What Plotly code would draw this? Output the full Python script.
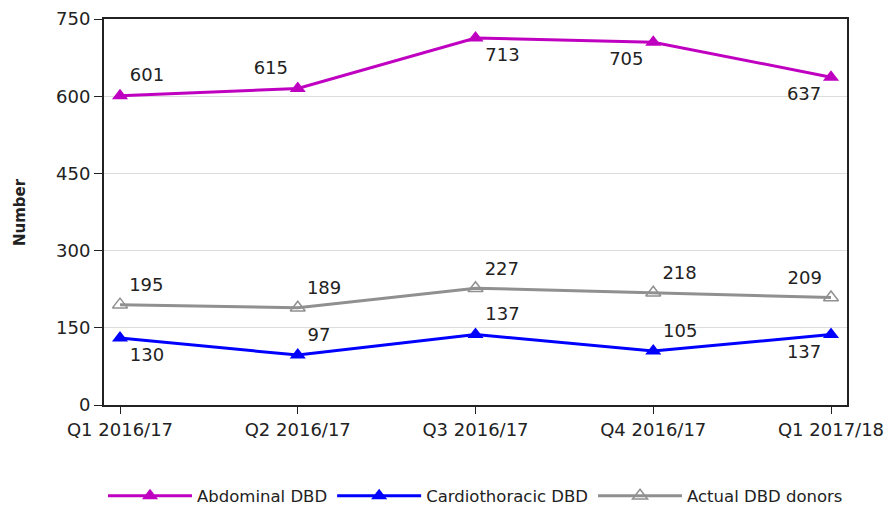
import plotly.graph_objects as go

quarters = ["Q1 2016/17", "Q2 2016/17", "Q3 2016/17", "Q4 2016/17", "Q1 2017/18"]
abdominal = [601, 615, 713, 705, 637]
cardio = [130, 97, 137, 105, 137]
actual = [195, 189, 227, 218, 209]

abd_pos = ["top right", "top left", "bottom right", "bottom left", "bottom left"]
car_pos = ["bottom right", "top right", "top right", "top right", "bottom left"]
act_pos = ["top right", "top right", "top right", "top right", "top left"]

xs = list(range(len(quarters)))
font = "DejaVu Sans, Arial, sans-serif"
txtc = "#222222"

fig = go.Figure()
fig.add_trace(go.Scatter(
    x=xs, y=abdominal, name="Abdominal DBD", mode="lines+markers+text",
    line=dict(color="#C000C0", width=3),
    marker=dict(symbol="triangle-up", size=14, color="#C000C0"),
    text=[str(v) for v in abdominal], textposition=abd_pos,
    textfont=dict(size=18, color=txtc, family=font)))
fig.add_trace(go.Scatter(
    x=xs, y=cardio, name="Cardiothoracic DBD", mode="lines+markers+text",
    line=dict(color="#0000FF", width=3),
    marker=dict(symbol="triangle-up", size=14, color="#0000FF"),
    text=[str(v) for v in cardio], textposition=car_pos,
    textfont=dict(size=18, color=txtc, family=font)))
fig.add_trace(go.Scatter(
    x=xs, y=actual, name="Actual DBD donors", mode="lines+markers+text",
    line=dict(color="#909090", width=3),
    marker=dict(symbol="triangle-up-open", size=13, color="#909090", line=dict(width=1.5)),
    text=[str(v) for v in actual], textposition=act_pos,
    textfont=dict(size=18, color=txtc, family=font)))

fig.update_layout(
    width=888, height=511,
    margin=dict(l=104, r=41, t=19, b=106, autoexpand=False),
    plot_bgcolor="white", paper_bgcolor="white",
    font=dict(family=font, size=18, color=txtc),
    showlegend=True,
    legend=dict(orientation="h", x=0.5, xanchor="center", y=-0.236, yanchor="middle",
                yref="paper", font=dict(size=16.5), itemwidth=84,
                traceorder="normal"),
    annotations=[dict(text="<b>Number</b>", xref="paper", yref="paper",
                      x=-84 / 743, y=0.5, xanchor="center", yanchor="middle",
                      textangle=-90, showarrow=False, font=dict(size=15, color=txtc))],
)
fig.update_xaxes(
    range=[-0.09, 4.09], tickmode="array", tickvals=xs, ticktext=quarters,
    showline=True, linecolor="#222222", linewidth=2, mirror=True, automargin=False,
    ticks="outside", ticklen=7, tickcolor="#222222", showgrid=False, zeroline=False,
    tickfont=dict(size=18))
fig.update_yaxes(
    range=[0, 750], tickvals=[0, 150, 300, 450, 600, 750],
    showline=True, linecolor="#222222", linewidth=2, mirror=True, automargin=False,
    ticks="outside", ticklen=8, tickcolor="#222222",
    showgrid=True, gridcolor="#DDDDDD", gridwidth=1, zeroline=False,
    tickfont=dict(size=18))

fig.write_html("out.html", config={"displayModeBar": False},
               post_script="document.body.style.margin='0';document.body.style.overflow='hidden';")
